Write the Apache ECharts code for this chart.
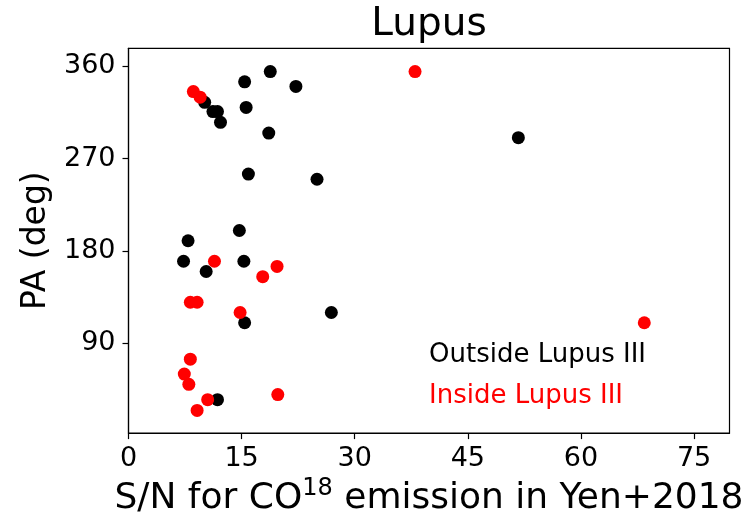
<!DOCTYPE html>
<html>
<head>
<meta charset="utf-8">
<script src="https://cdn.jsdelivr.net/npm/echarts@6/dist/echarts.min.js"></script>
<style>
html,body{margin:0;padding:0;background:#fff;}
#chart{width:748px;height:522px;}
</style>
</head>
<body>
<div id="chart"></div>
<script>
// Outside Lupus III (black)
var outsideSN = [18.8, 15.4, 22.2, 10.1, 11.2, 11.8, 15.6, 12.2, 18.6, 15.9, 25.0, 14.7, 7.9, 51.7, 7.3, 15.3, 10.3, 26.9, 15.4, 11.8];
var outsidePA = [355, 345, 340.5, 325, 316, 316, 320, 305.5, 295, 255, 250, 200, 190, 290.5, 170, 170, 160, 120, 110, 35];
// Inside Lupus III (red)
var insideSN = [38.0, 8.6, 9.5, 68.4, 11.4, 19.7, 17.8, 8.2, 9.1, 14.8, 8.2, 7.4, 8.0, 10.5, 19.8, 9.1];
var insidePA = [355, 335.5, 330, 110, 170, 165, 155, 130, 130, 120, 74.5, 60, 50, 35, 40, 24.5];
// Tick labels
var xTicks = [0, 15, 30, 45, 60, 75];
var yTicks = [90, 180, 270, 360];

function pairs(xs, ys) { return xs.map(function (v, i) { return [v, ys[i]]; }); }

var font = 'DejaVu Sans';
var chart = echarts.init(document.getElementById('chart'), null, {renderer: 'canvas'});
chart.setOption({
  animation: false,
  backgroundColor: '#fff',
  grid: {left: 128.5, right: 18.5, top: 48.3, bottom: 83.7, show: true, borderColor: '#000', borderWidth: 1.2, backgroundColor: 'transparent'},
  xAxis: {
    type: 'value', min: 0, max: 79.7,
    axisLine: {show: true, onZero: false, lineStyle: {color: '#000', width: 1.2}},
    axisTick: {show: true, length: 6, inside: false, customValues: xTicks, lineStyle: {color: '#000', width: 1.2}},
    axisLabel: {customValues: xTicks, margin: 12, fontFamily: font, fontSize: 27, color: '#000'},
    splitLine: {show: false},
    name: '{n|S/N for CO}{s|18}{n| emission in Yen+2018}',
    nameLocation: 'middle', nameGap: 42,
    nameTextStyle: {
      fontFamily: font, fontSize: 36, color: '#000',
      rich: {
        n: {fontFamily: font, fontSize: 36, color: '#000', lineHeight: 40, verticalAlign: 'bottom'},
        s: {fontFamily: font, fontSize: 24, color: '#000', lineHeight: 40, verticalAlign: 'top'}
      }
    }
  },
  yAxis: {
    type: 'value', min: 2.4, max: 377.7,
    axisLine: {show: true, onZero: false, lineStyle: {color: '#000', width: 1.2}},
    axisTick: {show: true, length: 6, inside: false, customValues: yTicks, lineStyle: {color: '#000', width: 1.2}},
    axisLabel: {customValues: yTicks, margin: 13, fontFamily: font, fontSize: 27, color: '#000'},
    splitLine: {show: false},
    name: 'PA (deg)', nameLocation: 'middle', nameGap: 74, nameRotate: 90,
    nameTextStyle: {fontFamily: font, fontSize: 33, color: '#000'}
  },
  series: [
    {
      name: 'Outside Lupus III', type: 'scatter', symbol: 'circle', symbolSize: 13,
      itemStyle: {color: '#000', opacity: 1},
      data: pairs(outsideSN, outsidePA), z: 2
    },
    {
      name: 'Inside Lupus III', type: 'scatter', symbol: 'circle', symbolSize: 13,
      itemStyle: {color: '#ff0000', opacity: 1},
      data: pairs(insideSN, insidePA), z: 3
    }
  ],
  graphic: [
    {type: 'text', x: 429, y: 5, style: {text: 'Lupus', fontFamily: font, fontSize: 39, fill: '#000', align: 'center'}},
    {type: 'text', left: 429, top: 342, style: {text: 'Outside Lupus III', fontFamily: font, fontSize: 26, fill: '#000'}},
    {type: 'text', left: 429, top: 383, style: {text: 'Inside Lupus III', fontFamily: font, fontSize: 26, fill: '#ff0000'}}
  ]
});
</script>
</body>
</html>
